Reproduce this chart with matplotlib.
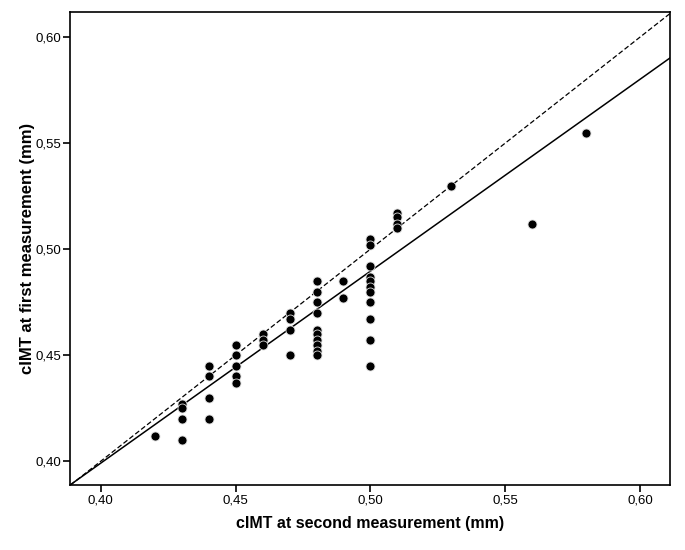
import matplotlib.pyplot as plt

plt.rcParams['font.family'] = ['Liberation Sans', 'DejaVu Sans']

# cIMT values (mm)
second = [0.42,
          0.43, 0.43, 0.43, 0.43,
          0.44, 0.44, 0.44, 0.44,
          0.45, 0.45, 0.45, 0.45, 0.45,
          0.46, 0.46, 0.46,
          0.47, 0.47, 0.47, 0.47,
          0.48, 0.48, 0.48, 0.48, 0.48, 0.48, 0.48, 0.48, 0.48, 0.48,
          0.49, 0.49,
          0.50, 0.50, 0.50, 0.50, 0.50, 0.50, 0.50, 0.50, 0.50, 0.50, 0.50,
          0.51, 0.51, 0.51, 0.51,
          0.53, 0.56, 0.58]
first = [0.412,
         0.427, 0.425, 0.420, 0.410,
         0.445, 0.440, 0.430, 0.420,
         0.455, 0.450, 0.445, 0.440, 0.437,
         0.460, 0.457, 0.455,
         0.470, 0.467, 0.462, 0.450,
         0.485, 0.480, 0.475, 0.470, 0.462, 0.460, 0.457, 0.455, 0.452, 0.450,
         0.485, 0.477,
         0.505, 0.502, 0.492, 0.487, 0.485, 0.482, 0.480, 0.475, 0.467, 0.457, 0.445,
         0.517, 0.515, 0.512, 0.510,
         0.530, 0.512, 0.555]

# fit line
fit_slope = 0.905
fit_intercept = 0.0371

xticks = [0.40, 0.45, 0.50, 0.55, 0.60]
yticks = [0.40, 0.45, 0.50, 0.55, 0.60]

fig = plt.figure(figsize=(6.85, 5.5), dpi=100)
ax = fig.add_axes([0.102, 0.118, 0.876, 0.860])

ax.axline((0.5, 0.5), slope=1, color='black', lw=0.9, ls=(0, (4, 2)), zorder=1)
ax.axline((0.5, fit_slope * 0.5 + fit_intercept), slope=fit_slope,
          color='black', lw=1.1, zorder=1)
ax.scatter(second, first, s=42, c='black', edgecolors='#dddddd',
           linewidths=0.6, zorder=3)

ax.set_xlim(0.3885, 0.6111)
ax.set_ylim(0.3887, 0.6118)
ax.set_xticks(xticks)
ax.set_yticks(yticks)
ax.set_xticklabels([f'{t:.2f}'.replace('.', ',') for t in xticks])
ax.set_yticklabels([f'{t:.2f}'.replace('.', ',') for t in yticks])
ax.tick_params(direction='out', length=5, width=1.2, labelsize=9.5,
               colors='black', pad=1.5)
for s in ax.spines.values():
    s.set_linewidth(1.2)

ax.set_xlabel('cIMT at second measurement (mm)', fontsize=11.5,
              fontweight='bold', labelpad=7)
ax.set_ylabel('cIMT at first measurement (mm)', fontsize=12,
              fontweight='bold', labelpad=0)

fig.savefig('out.png', dpi=100)
